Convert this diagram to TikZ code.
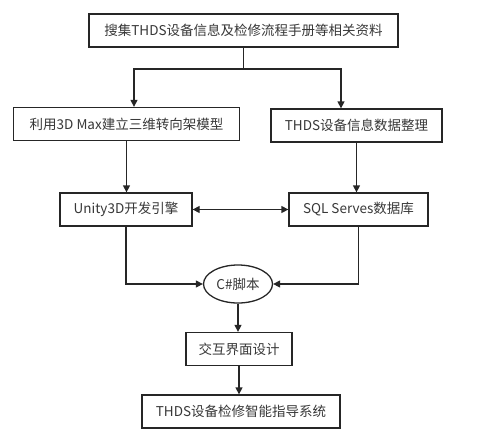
\documentclass[tikz,border=0pt]{standalone}
\usepackage{fontspec}
\setmainfont{Noto Sans CJK SC}
\usetikzlibrary{arrows.meta,positioning,shapes.geometric}

\begin{document}
\begin{tikzpicture}[x=1pt,y=-1pt,font=\fontsize{13.5}{16}\selectfont,
  box/.style={draw=black!85,line width=1.3pt,minimum height=33pt,inner xsep=4pt,text=black!78,fill=white},
  oval/.style={ellipse,draw=black!85,line width=1.3pt,minimum width=69pt,minimum height=38pt,inner sep=1pt,text=black!78,fill=white},
  link/.style={line width=1.3pt,draw=black!85},
  flow/.style={link,-{Triangle[length=7pt,width=7pt]}},
  both/.style={link,{Triangle[length=7pt,width=7pt]}-{Triangle[length=7pt,width=7pt]}}]
\useasboundingbox (0,0) rectangle (487,437);
\node[box,minimum width=309pt] (collect) at (243.5,30.5) {搜集THDS设备信息及检修流程手册等相关资料};
\node[box,minimum width=226pt] (model) at (126.5,124) {利用3D Max建立三维转向架模型};
\node[box,minimum width=171pt] (tidy) at (356.5,125.5) {THDS设备信息数据整理};
\node[box,minimum width=132pt] (unity) at (126,209.5) {Unity3D开发引擎};
\node[box,minimum width=139pt] (sql) at (358.5,209.5) {SQL Serves数据库};
\node[oval] (script) at (238,284) {C\#脚本};
\node[box,minimum width=106pt] (ui) at (239,349) {交互界面设计};
\node[box,minimum width=198pt] (system) at (241,411.5) {THDS设备检修智能指导系统};
% collect -> two branches
\coordinate (split) at (243.5,69);
\draw[link] (collect.south) -- (split);
\draw[flow] (split) -| ([xshift=7.5pt]model.north);
\draw[flow] (split) -| ([xshift=-15.5pt]tidy.north);
\draw[flow] (model.south) -- (model.south |- unity.north);
\draw[flow] (tidy.south) -- (tidy.south |- sql.north);
\draw[both] (unity.east) -- (sql.west);
% both into the script
\draw[flow] (unity.south) |- (script.west);
\draw[flow] (sql.south) |- (script.east);
\draw[flow] (script.south) -- (script.south |- ui.north);
\draw[flow] (ui.south) -- (ui.south |- system.north);
\end{tikzpicture}
\end{document}
